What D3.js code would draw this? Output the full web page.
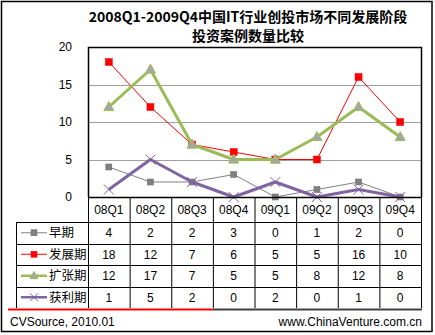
<!DOCTYPE html>
<html><head><meta charset="utf-8">
<script src="https://cdn.jsdelivr.net/npm/d3@7/dist/d3.min.js"></script>
<style>
html,body{margin:0;padding:0;background:#fff;}
svg{display:block;}
text{font-family:Arial,"Liberation Sans","Noto Sans CJK SC",sans-serif;}
</style></head>
<body>
<svg id="chart" width="435" height="335"></svg>
<script>
const categories = ["08Q1","08Q2","08Q3","08Q4","09Q1","09Q2","09Q3","09Q4"];
const seriesNames = ["早期","发展期","扩张期","获利期"];
const early = [4,2,2,3,0,1,2,0];
const development = [18,12,7,6,5,5,16,10];
const expansion = [12,17,7,5,5,8,12,8];
const exit = [1,5,2,0,2,0,1,0];
const yTicks = [0,5,10,15,20];
const titleLines = ["2008Q1-2009Q4中国IT行业创投市场不同发展阶段","投资案例数量比较"];
const sourceLeft = "CVSource, 2010.01";
const sourceRight = "www.ChinaVenture.com.cn";

const seriesValues = [early, development, expansion, exit];
const styles = [
  {color:"#808080", width:1, marker:"square", size:6, fill:"#808080", mstroke:"#666"},
  {color:"#FF0000", width:1, marker:"square", size:7, fill:"#FF0000", mstroke:"#FF0000"},
  {color:"#9BBB59", width:3, marker:"triangle", size:10, fill:"#A6A6A6", mstroke:"#9BBB59"},
  {color:"#8064A2", width:3, marker:"x", size:10, fill:"none", mstroke:"#8064A2"}
];

const svg = d3.select("#chart");
const L = 88, R = 421, T = 47, B = 197;
const tableLeft = 16, rowH = 21.5, headerBottom = 222;

// outer border
svg.append("rect").attr("x",1.5).attr("y",1.5).attr("width",430.5).attr("height",330)
  .attr("fill","none").attr("stroke","#000").attr("stroke-width",1.5);

// title
const title = svg.append("text").attr("x",248).attr("text-anchor","middle")
  .attr("font-weight","bold").attr("font-size","14px")
  .style("font-family","'Noto Sans CJK SC',sans-serif");
titleLines.forEach((t,i)=>{
  title.append("tspan").attr("x",248).attr("y", 22 + i*19).text(t);
});

const x = d3.scaleBand().domain(categories).range([L,R]);
const y = d3.scaleLinear().domain([0,20]).range([B,T]);
const cx = c => x(c) + x.bandwidth()/2;

// gridlines
svg.append("g").selectAll("line").data(yTicks.filter(v=>v>0 && v<20)).join("line")
  .attr("x1",L).attr("x2",R).attr("y1",d=>Math.round(y(d))+0.5).attr("y2",d=>Math.round(y(d))+0.5)
  .attr("stroke","#A0A0A0").attr("stroke-width",1);

// plot border
svg.append("path").attr("d",`M${L+0.5},${B}V${T+0.5}H${R+0.5}V${B}`)
  .attr("fill","none").attr("stroke","#000").attr("stroke-width",1.5);

// y axis
const yAxis = d3.axisLeft(y).tickValues(yTicks).tickSize(0).tickPadding(16);
const gy = svg.append("g").attr("transform",`translate(${L},0)`).call(yAxis);
gy.select(".domain").remove();
gy.selectAll("text").attr("font-size","12px").attr("fill","#000")
  .style("font-family","Arial,'Liberation Sans',sans-serif");

// lines
const line = d3.line().x((d,i)=>cx(categories[i])).y(d=>y(d));
seriesValues.forEach((vals,si)=>{
  const st = styles[si];
  const g = svg.append("g");
  g.append("path").attr("d",line(vals)).attr("fill","none")
    .attr("stroke",st.color).attr("stroke-width",st.width).attr("stroke-linejoin","round");
  vals.forEach((v,i)=>{
    drawMarker(g, cx(categories[i]), y(v), st);
  });
});

function drawMarker(g, px, py, st){
  const s = st.size;
  if(st.marker==="square"){
    g.append("rect").attr("x",px-s/2).attr("y",py-s/2).attr("width",s).attr("height",s)
      .attr("fill",st.fill).attr("stroke",st.mstroke).attr("stroke-width",0.5);
  } else if(st.marker==="triangle"){
    const h = s*0.9;
    g.append("path").attr("d",`M${px},${py-h*0.6}L${px+s/2},${py+h*0.4}L${px-s/2},${py+h*0.4}Z`)
      .attr("fill",st.fill).attr("stroke",st.mstroke).attr("stroke-width",1);
  } else {
    const r = s/2;
    g.append("path").attr("d",`M${px-r},${py-r}L${px+r},${py+r}M${px-r},${py+r}L${px+r},${py-r}`)
      .attr("fill","none").attr("stroke",st.mstroke).attr("stroke-width",1);
  }
}

// table
const tg = svg.append("g");
const tableBottom = headerBottom + rowH*seriesNames.length;
// header verticals
categories.forEach((c,i)=>{
  tg.append("line").attr("x1",x(c)+0.5).attr("x2",x(c)+0.5).attr("y1",B).attr("y2",tableBottom)
    .attr("stroke","#000");
});
tg.append("line").attr("x1",R+0.5).attr("x2",R+0.5).attr("y1",B).attr("y2",tableBottom).attr("stroke","#000");
tg.append("line").attr("x1",tableLeft+0.5).attr("x2",tableLeft+0.5).attr("y1",headerBottom).attr("y2",tableBottom).attr("stroke","#000");
// horizontals
for(let r=0;r<seriesNames.length;r++){
  const yy = Math.round(headerBottom + r*rowH)+0.5;
  tg.append("line").attr("x1",tableLeft).attr("x2",R+1).attr("y1",yy).attr("y2",yy).attr("stroke","#000");
}
// axis line
tg.append("line").attr("x1",L).attr("x2",R+1).attr("y1",B+0.5).attr("y2",B+0.5).attr("stroke","#000").attr("stroke-width",1.5);

// category labels
tg.selectAll("text.cat").data(categories).join("text").attr("class","cat")
  .attr("x",d=>cx(d)).attr("y",(B+headerBottom)/2+4.5).attr("text-anchor","middle")
  .attr("font-size","12px").text(d=>d);

// rows
seriesNames.forEach((name,si)=>{
  const st = styles[si];
  const rc = headerBottom + si*rowH + rowH/2;
  tg.append("line").attr("x1",21).attr("x2",47).attr("y1",rc).attr("y2",rc)
    .attr("stroke",st.color).attr("stroke-width",st.width===1?1:2.5);
  drawMarker(tg, 34, rc, Object.assign({}, st, {size: st.marker==="square"?6: 8}));
  tg.append("text").attr("x",49).attr("y",rc+4.5).attr("font-size","12.5px")
    .style("font-family","'Noto Sans CJK SC',sans-serif").text(name);
  seriesValues[si].forEach((v,i)=>{
    tg.append("text").attr("x",cx(categories[i])).attr("y",rc+4.5).attr("text-anchor","middle")
      .attr("font-size","12px").text(v);
  });
});

// decorative bottom line
svg.append("line").attr("x1",8).attr("x2",213).attr("y1",309.5).attr("y2",309.5).attr("stroke","#FF0000").attr("stroke-width",2);
svg.append("line").attr("x1",213).attr("x2",422).attr("y1",309.5).attr("y2",309.5).attr("stroke","#404040").attr("stroke-width",2);

// sources
svg.append("text").attr("x",10).attr("y",326).attr("font-size","12px").text(sourceLeft);
svg.append("text").attr("x",422).attr("y",326).attr("text-anchor","end").attr("font-size","12px").text(sourceRight);
</script>
</body></html>
